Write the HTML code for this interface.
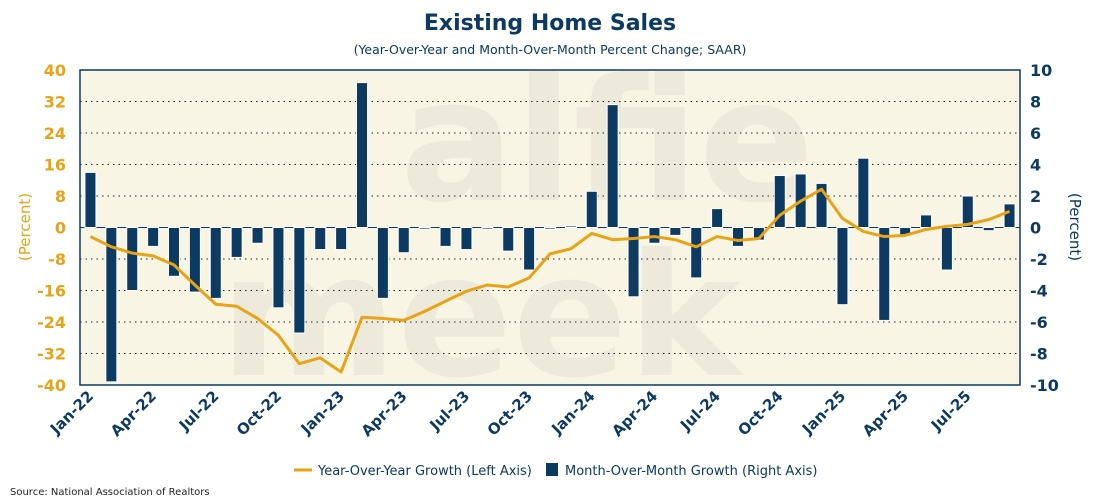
<!DOCTYPE html>
<html><head><meta charset="utf-8"><style>
body{margin:0;background:#fff;width:1100px;height:500px;overflow:hidden;font-family:"DejaVu Sans","Liberation Sans",sans-serif}
</style></head><body>
<svg width="1100" height="500" font-family="DejaVu Sans, Liberation Sans, sans-serif">
<text x="550" y="30" text-anchor="middle" font-size="22" font-weight="bold" fill="#0d3a63">Existing Home Sales</text>
<text x="550" y="54" text-anchor="middle" font-size="12.5" fill="#0d3a63">(Year-Over-Year and Month-Over-Month Percent Change; SAAR)</text>
<rect x="80" y="70" width="940" height="315" fill="#f8f5e4"/>
<g fill="#eeeadb" font-size="170" font-weight="bold"><text x="400" y="200">alfie</text><text x="220" y="375">meek</text></g>
<g id="grid"></g><g id="bars"></g><g id="line"></g><g id="axes"></g>
<rect x="80" y="70" width="940" height="315" fill="none" stroke="#0d3a63" stroke-width="1.5"/>
<text transform="translate(30 227) rotate(-90)" text-anchor="middle" font-size="15" fill="#e8a317">(Percent)</text>
<text transform="translate(1070 227) rotate(90)" text-anchor="middle" font-size="15" fill="#0d3a63">(Percent)</text>
<g>
<line x1="294" y1="470" x2="312" y2="470" stroke="#e8a317" stroke-width="3"/>
<text x="318" y="475" font-size="13" fill="#0d3a63">Year-Over-Year Growth (Left Axis)</text>
<rect x="546" y="463" width="12" height="13" fill="#0d3a63"/>
<text x="565" y="475" font-size="13" fill="#0d3a63">Month-Over-Month Growth (Right Axis)</text>
</g>
<text x="10" y="495" font-size="10" fill="#222">Source: National Association of Realtors</text>
</svg>
<script>
const months=["Jan-22","Feb-22","Mar-22","Apr-22","May-22","Jun-22","Jul-22","Aug-22","Sep-22","Oct-22","Nov-22","Dec-22","Jan-23","Feb-23","Mar-23","Apr-23","May-23","Jun-23","Jul-23","Aug-23","Sep-23","Oct-23","Nov-23","Dec-23","Jan-24","Feb-24","Mar-24","Apr-24","May-24","Jun-24","Jul-24","Aug-24","Sep-24","Oct-24","Nov-24","Dec-24","Jan-25","Feb-25","Mar-25","Apr-25","May-25","Jun-25","Jul-25","Aug-25","Sep-25"];
const yoy=[-2.3,-4.9,-6.5,-7.2,-9.5,-14.6,-19.5,-20.0,-23.1,-27.4,-34.6,-33.1,-36.7,-22.8,-23.1,-23.6,-21.3,-18.7,-16.2,-14.6,-15.1,-12.8,-6.7,-5.4,-1.5,-3.1,-2.8,-2.3,-3.1,-4.9,-2.3,-3.3,-2.8,3.1,6.7,9.7,2.3,-1.0,-2.3,-2.0,-0.5,0.3,0.8,2.0,4.1];
const mom=[3.5,-9.8,-4.0,-1.2,-3.1,-4.1,-4.5,-1.9,-1.0,-5.1,-6.7,-1.4,-1.4,9.2,-4.5,-1.6,-0.1,-1.2,-1.4,-0.1,-1.5,-2.7,-0.1,0.1,2.3,7.8,-4.4,-1.0,-0.5,-3.2,1.2,-1.2,-0.8,3.3,3.4,2.8,-4.9,4.4,-5.9,-0.5,0.8,-2.7,2.0,-0.2,1.5];
const leftTicks=[40,32,24,16,8,0,-8,-16,-24,-32,-40];
const rightTicks=[10,8,6,4,2,0,-2,-4,-6,-8,-10];
const NS="http://www.w3.org/2000/svg";
const X0=80,X1=1020,Y0=70,Y1=385;
const bw=(X1-X0)/months.length;
const xc=i=>X0+bw*(i+0.5);
const yL=v=>Y0+(40-v)/80*(Y1-Y0);
const yR=v=>Y0+(10-v)/20*(Y1-Y0);
function mk(t,a,p){const e=document.createElementNS(NS,t);for(const k in a)e.setAttribute(k,a[k]);document.getElementById(p).appendChild(e);return e;}
leftTicks.forEach((v,i)=>{
 if(v!==40&&v!==-40&&v!==0){const g=mk('line',{x1:X0,x2:X1,y1:yL(v),y2:yL(v),stroke:'#222','stroke-dasharray':'1.5 4','stroke-width':1},'grid');
 
 }
 const t=mk('text',{x:66,y:yL(v)+6,'text-anchor':'end','font-size':16,'font-weight':'bold',fill:'#e8a317'},'axes');t.textContent=v;
 
 
});
rightTicks.forEach(v=>{
 const t=mk('text',{x:1030,y:yR(v)+6,'font-size':16,'font-weight':'bold',fill:'#0d3a63'},'axes');t.textContent=v;
 
 
});
const z=mk('line',{x1:X0,x2:X1,y1:yR(0),y2:yR(0),stroke:'#0d3a63','stroke-width':1},'grid');


mom.forEach((v,i)=>{
 const y=yR(Math.max(v,0)),h=Math.abs(yR(v)-yR(0));
 const r=mk('rect',{x:xc(i)-5.5,y:y,width:11,height:Math.max(h,0.5),fill:'#0d3a63',stroke:'#fff','stroke-width':1},'bars');
 
 
});
const p=mk('polyline',{points:yoy.map((v,i)=>xc(i)+','+yL(v)).join(' '),fill:'none',stroke:'#e8a317','stroke-width':3,'stroke-linejoin':'round'},'line');


months.forEach((m,i)=>{if(i%3)return;
 const x=xc(i)+4,y=397;
 const t=mk('text',{x:x,y:y,'text-anchor':'end','font-size':15,'font-weight':'bold',fill:'#0d3a63',transform:`rotate(-45 ${x} ${y})`},'axes');t.textContent=m;
 
 
});
</script>
</body></html>
